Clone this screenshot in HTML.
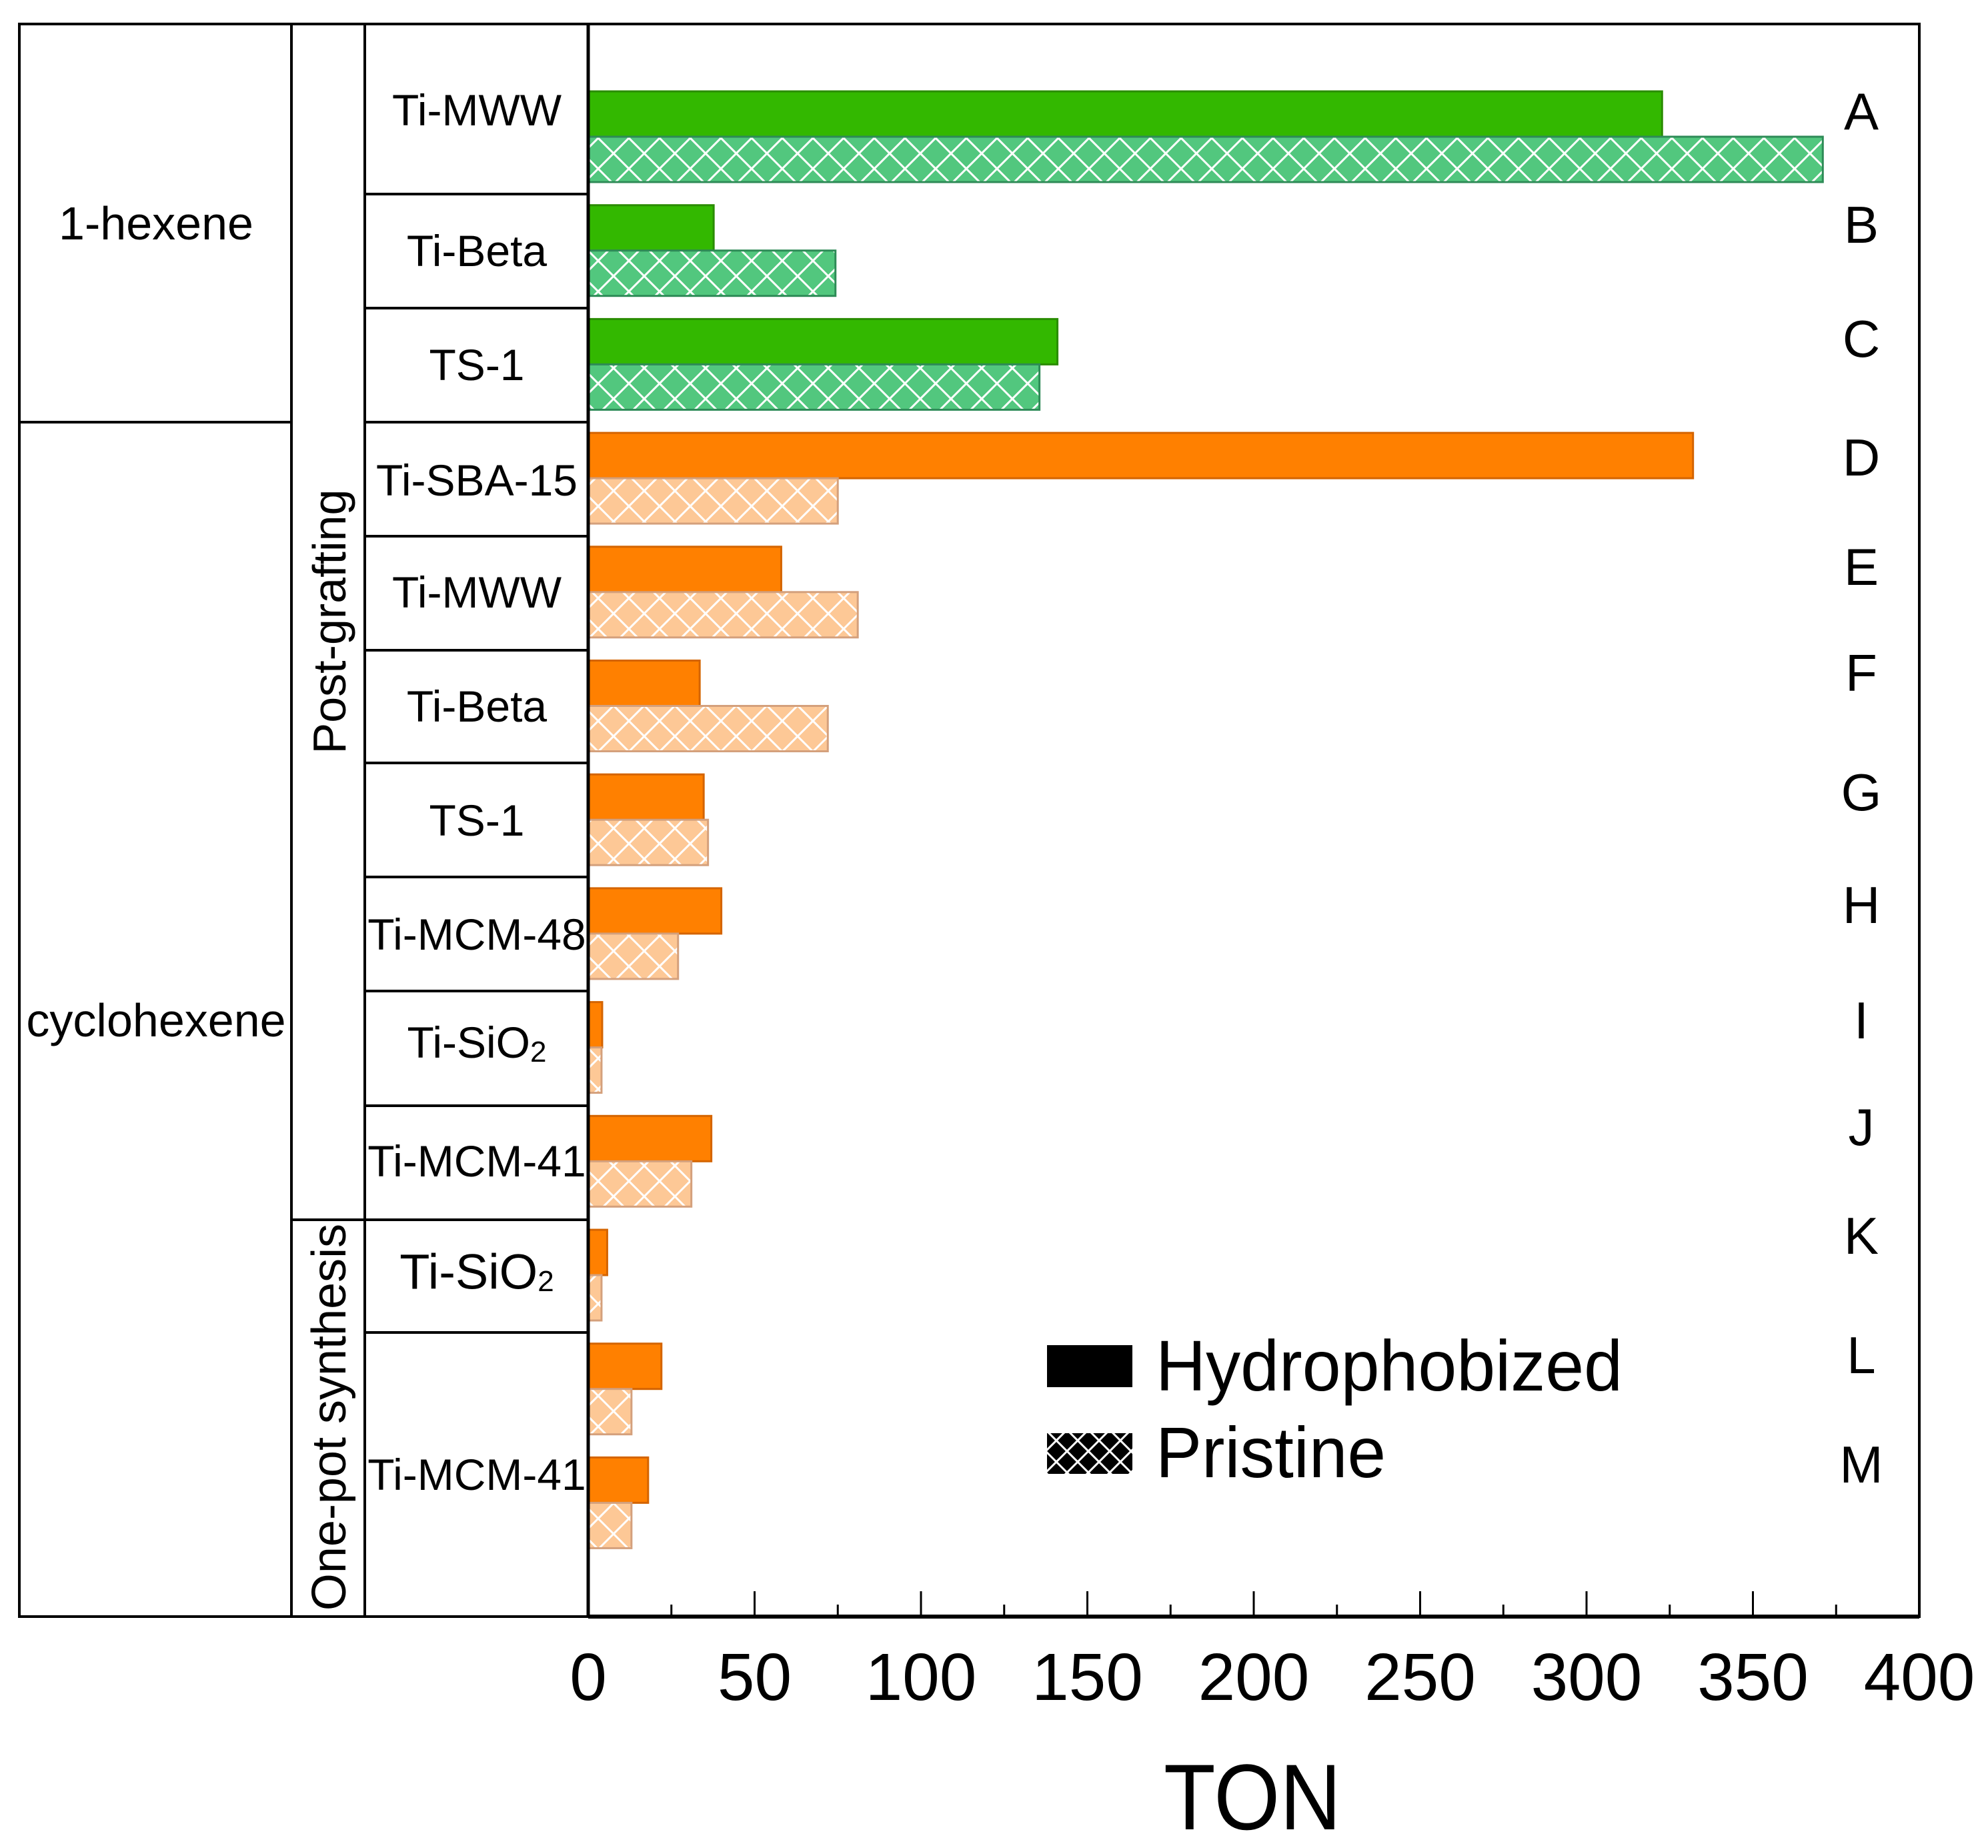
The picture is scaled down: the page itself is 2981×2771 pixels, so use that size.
<!DOCTYPE html>
<html><head><meta charset="utf-8"><style>
html,body{margin:0;padding:0;background:#fff}
svg{display:block;font-family:"Liberation Sans",Arial,sans-serif}
</style></head><body>
<svg id="chart" width="2981" height="2771" viewBox="0 0 2981 2771" xmlns="http://www.w3.org/2000/svg">
<defs>
<pattern id="hatchG" patternUnits="userSpaceOnUse" width="46" height="46">
<rect width="46" height="46" fill="#52c77e"/>
<path d="M0 0L46 46M46 0L0 46" stroke="#fff" stroke-width="3"/>
</pattern>
<pattern id="hatchO" patternUnits="userSpaceOnUse" width="46" height="46">
<rect width="46" height="46" fill="#fdc896"/>
<path d="M0 0L46 46M46 0L0 46" stroke="#fff" stroke-width="3"/>
</pattern>
<pattern id="hatchK" patternUnits="userSpaceOnUse" width="32" height="32">
<rect width="32" height="32" fill="#000"/>
<path d="M0 0L32 32M32 0L0 32" stroke="#fff" stroke-width="3"/>
</pattern>
</defs>
<g id="frame" stroke="#000" stroke-width="4" fill="none">
<rect x="29" y="36" width="2849" height="2388"/>
<line x1="437" y1="36" x2="437" y2="2424"/>
<line x1="547" y1="36" x2="547" y2="2424"/>
<line x1="882" y1="36" x2="882" y2="2424"/>
<line x1="29" y1="633" x2="437" y2="633"/>
<line x1="437" y1="1829" x2="547" y2="1829"/>
<line x1="547" y1="291" x2="882" y2="291"/>
<line x1="547" y1="462" x2="882" y2="462"/>
<line x1="547" y1="633" x2="882" y2="633"/>
<line x1="547" y1="804" x2="882" y2="804"/>
<line x1="547" y1="975" x2="882" y2="975"/>
<line x1="547" y1="1144" x2="882" y2="1144"/>
<line x1="547" y1="1315" x2="882" y2="1315"/>
<line x1="547" y1="1486" x2="882" y2="1486"/>
<line x1="547" y1="1658" x2="882" y2="1658"/>
<line x1="547" y1="1829" x2="882" y2="1829"/>
<line x1="547" y1="1998" x2="882" y2="1998"/>
<line x1="882" y1="2424" x2="2878" y2="2424" stroke-width="6"/>
</g>
<g font-size="70" fill="#000" text-anchor="middle" dominant-baseline="central">
<text x="234" y="335">1-hexene</text>
<text x="234" y="1530" font-size="70">cyclohexene</text>
<text transform="translate(494,932) rotate(-90)" font-size="70">Post-grafting</text>
<text transform="translate(494,2125) rotate(-90)" font-size="72">One-pot synthesis</text>
</g>
<g id="rowlabels" font-size="66" text-anchor="middle" dominant-baseline="central"></g>
<g id="bars"></g>
<g id="letters" font-size="78" text-anchor="middle" dominant-baseline="central"></g>
<g id="axis"></g>
<g id="legend">
<rect x="1570" y="2017" width="128" height="63" fill="#000"/>
<text x="1733" y="2085" font-size="108" textLength="700" lengthAdjust="spacingAndGlyphs">Hydrophobized</text>
<rect x="1570" y="2149" width="128" height="61" fill="url(#hatchK)"/>
<text x="1733" y="2215" font-size="108" textLength="345" lengthAdjust="spacingAndGlyphs">Pristine</text>
</g>
<text x="1878" y="2743" font-size="140" text-anchor="middle" textLength="266" lengthAdjust="spacingAndGlyphs">TON</text>
</svg>
<script>
const letters = ["A","B","C","D","E","F","G","H","I","J","K","L","M"];
const hydrophobized = [322.7,37.7,141,332,58,33.5,34.7,40,4.2,37,5.7,22,18];
const pristine = [371,74.3,135.6,75,81,72,36,27,4,31,4,13,13];
const reactant = ["1-hexene","1-hexene","1-hexene","cyclohexene","cyclohexene","cyclohexene","cyclohexene","cyclohexene","cyclohexene","cyclohexene","cyclohexene","cyclohexene","cyclohexene"];
const xTicks = [0,50,100,150,200,250,300,350,400];
const rowLabels = [["Ti-MWW",165],["Ti-Beta",376],["TS-1",547],["Ti-SBA-15",720],["Ti-MWW",888],["Ti-Beta",1059],["TS-1",1230],["Ti-MCM-48",1401],["Ti-SiO|2",1563],["Ti-MCM-41",1741],["Ti-SiO|2",1907],["Ti-MCM-41",2211]];
const letterY = [167,337,508,686,850,1009,1188,1357,1530,1690,1853,2032,2196];

const NS="http://www.w3.org/2000/svg";
const X0=882, X1=2878, VMAX=400;
const xs=v=>X0+(v/VMAX)*(X1-X0);
const yc=i=>205+i*170.7;
const BH=68;
function mk(tag,attrs,parent){const e=document.createElementNS(NS,tag);for(const k in attrs)e.setAttribute(k,attrs[k]);parent.appendChild(e);return e;}
const bars=document.getElementById('bars');
letters.forEach((L,i)=>{
  const green=reactant[i]==="1-hexene";
  const h=mk('rect',{x:X0,y:yc(i)-BH,width:xs(hydrophobized[i])-X0,height:BH,fill:green?"#33b800":"#ff8000",stroke:green?"#2a8c00":"#d46400","stroke-width":3},bars);
  
  
  const p=mk('rect',{x:X0,y:yc(i),width:xs(pristine[i])-X0,height:BH,fill:green?"url(#hatchG)":"url(#hatchO)",stroke:green?"#2e8b57":"#d4a07c","stroke-width":3},bars);
  
  
});
mk('line',{x1:X0,y1:36,x2:X0,y2:2424,stroke:"#000","stroke-width":5},bars);
const lg=document.getElementById('letters');
letters.forEach((L,i)=>{
  const t=mk('text',{x:2791,y:letterY[i]},lg);
  t.textContent=L;
  
  
});
const rl=document.getElementById('rowlabels');
rowLabels.forEach(([s,y],i)=>{
  const t=mk('text',{x:715,y:y},rl);
  
  
  if(s.includes('|')){
    const [a,b]=s.split('|');
    t.appendChild(document.createTextNode(a));
    const sp=mk('tspan',{"font-size":44,dy:14},t);sp.textContent=b;
    if(i===10)t.setAttribute('font-size','74');
  } else t.textContent=s;
});
const ax=document.getElementById('axis');
for(let v=0;v<=VMAX;v+=25){
  const major=v%50===0;
  const tk=mk('line',{x1:xs(v),x2:xs(v),y1:2424,y2:2424-(major?38:18),stroke:"#000","stroke-width":3},ax);
  
  
}
xTicks.forEach(v=>{
  const t=mk('text',{x:xs(v),y:2549,"font-size":100,"text-anchor":"middle"},ax);
  t.textContent=v;
  
  
});
</script>
</body></html>
